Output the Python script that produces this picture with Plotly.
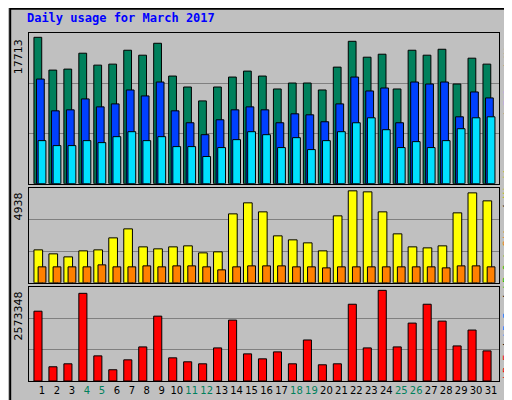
import plotly.graph_objects as go
from plotly.subplots import make_subplots

days = list(range(1, 32))
weekend = [4, 5, 11, 12, 18, 19, 25, 26]

hits = [17713, 13744, 13865, 15788, 14345, 14466, 16148, 15547, 16990, 13023, 11700, 10018, 11700, 12903, 13624, 13023,
        11460, 12181, 12181, 11340, 14105, 17230, 15307, 15667, 11460, 16148, 15547, 16268, 12061, 15187, 14466]
files = [12662, 8815, 8936, 10258, 9296, 9657, 11340, 10619, 12301, 8815, 7373, 5930, 7733, 8936, 9296, 8936,
         7373, 8455, 8334, 7493, 9657, 12903, 11220, 11580, 7373, 12301, 12061, 12301, 8094, 11099, 10378]
pages = [5209, 4608, 4608, 5209, 4969, 5690, 6291, 5209, 5690, 4488, 4488, 3286, 4368, 5329, 6291, 5930,
         4368, 5570, 4127, 5209, 6291, 7373, 7974, 6531, 4368, 5089, 4368, 5209, 6652, 7974, 8094]
visits = [1771, 1557, 1395, 1718, 1771, 2415, 2898, 1932, 1825, 1932, 1986, 1610, 1664, 3703, 4294, 3811,
          2523, 2308, 2147, 1718, 3596, 4938, 4884, 3811, 2630, 1932, 1878, 1986, 3757, 4830, 4401]
sites = [859, 859, 859, 859, 966, 859, 859, 912, 859, 912, 912, 859, 698, 859, 912, 912,
         912, 859, 859, 805, 859, 859, 859, 859, 859, 859, 859, 805, 912, 912, 859]
kbytes = [1981670, 403847, 488374, 2488827, 713777, 319321, 601075, 967356, 1840793, 657425, 544723, 488374,
          939180, 1728091, 770127, 629250, 826478, 488374, 1164583, 460198, 488374, 2178891, 939180, 2573348,
          967356, 1643563, 2178891, 1699917, 995531, 1446337, 854654]

max_hits, max_visits, max_kb = 17713, 4938, 2573348

fig = make_subplots(rows=3, cols=1, shared_xaxes=True, vertical_spacing=0.01)


def bars(x_off, vals, color, row, width=0.52):
    fig.add_trace(go.Bar(x=[d + x_off for d in days], y=vals, width=width, marker_color=color,
                         marker_line=dict(color="black", width=1)), row=row, col=1)


bars(-0.28, hits, "#00805C", 1)
bars(-0.11, files, "#0040FF", 1)
bars(0.0, pages, "#00E0FF", 1)
bars(-0.25, visits, "#FFFF00", 2, 0.58)
bars(0.0, sites, "#FF8000", 2)
bars(-0.27, kbytes, "#FF0000", 3, 0.54)

ranges = [max_hits * 455 / 442, max_visits * 286 / 276, max_kb * 284 / 274]
for i, r in enumerate(ranges, start=1):
    fig.update_yaxes(range=[0, r], tickvals=[r / 3, 2 * r / 3], showticklabels=False, ticks="",
                     gridcolor="#808080", gridwidth=1, zeroline=False, showline=True, linecolor="black",
                     mirror=True, row=i, col=1)

ticktext = [f"<span style='color:#00805C'>{d}</span>" if d in weekend else str(d) for d in days]
fig.update_xaxes(range=[0.13, 31.53], showgrid=False, zeroline=False, showline=True, linecolor="black",
                 mirror=True, ticks="", tickvals=days, ticktext=ticktext, tickangle=0,
                 tickfont=dict(family="DejaVu Sans", size=10, color="black"))

fig.update_layout(
    width=512, height=400, margin=dict(l=21, r=21, t=25, b=24),
    paper_bgcolor="#C0C0C0", plot_bgcolor="#C0C0C0", showlegend=False, barmode="overlay",
    yaxis=dict(domain=[0.567, 1]), yaxis2=dict(domain=[0.282, 0.556]), yaxis3=dict(domain=[0, 0.27]),
    font=dict(family="DejaVu Sans Mono", size=11),
    title=dict(text="<b>Daily usage for March 2017</b>", x=0.037, y=0.985, xanchor="left", yanchor="top",
               font=dict(family="DejaVu Sans Mono", size=12, color="#0000FF")),
    shapes=[dict(type="rect", xref="paper", yref="paper", x0=-0.04, x1=1.04, y0=-0.065, y1=1.07,
                 line=dict(color="black", width=2), layer="below")],
)

for yref, val in [("y domain", max_hits), ("y2 domain", max_visits), ("y3 domain", max_kb)]:
    fig.add_annotation(xref="paper", yref=yref, x=-0.005, y=0.97, text=str(val), textangle=-90,
                       showarrow=False, xanchor="right", yanchor="top",
                       font=dict(family="DejaVu Sans", size=11, color="black"))

sep = "<span style='color:black'> / </span>"
top_right = ("<span style='color:#00C0C0'>Pages</span>" + sep + "<span style='color:#0040FF'>Files</span>" + sep
             + "<span style='color:#00805C'>Hits</span>")
low_right = ("<span style='color:#FF0000'>kB F</span>" + sep + "<span style='color:#0080FF'>kB In</span>" + sep
             + "<span style='color:#00C000'>kB Out</span> <span style='color:#FF8000'>Sites</span>" + sep
             + "<span style='color:#C0C000'>Visits</span>")
fig.add_annotation(xref="paper", yref="y domain", x=1.0, xshift=1, y=1.0, text=top_right, textangle=-90,
                   showarrow=False, xanchor="left", yanchor="top", font=dict(family="DejaVu Sans Mono", size=10))
fig.add_annotation(xref="paper", yref="paper", x=1.0, xshift=1, y=0.0, text=low_right, textangle=-90,
                   showarrow=False, xanchor="left", yanchor="bottom", font=dict(family="DejaVu Sans Mono", size=10))

fig.write_html("out.html")
